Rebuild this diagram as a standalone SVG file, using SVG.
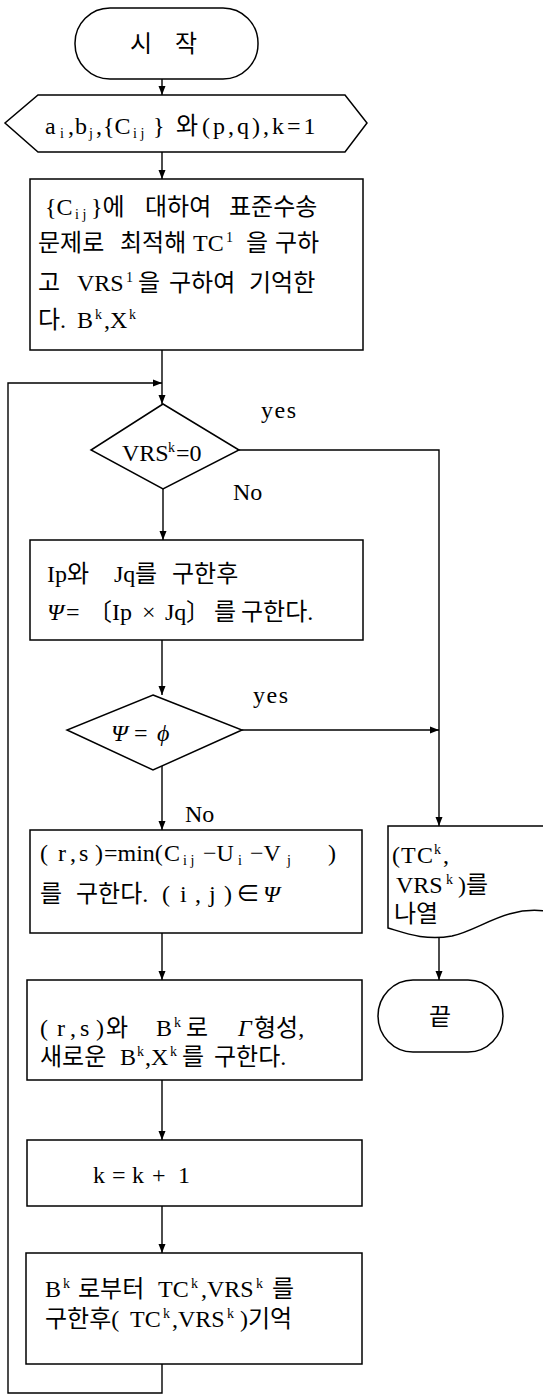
<svg xmlns="http://www.w3.org/2000/svg" width="543" height="1400" viewBox="0 0 543 1400">
<style>
.n{fill:#fff;stroke:#000;stroke-width:1.5}
.c{fill:none;stroke:#000;stroke-width:1.4}
.t{font-family:"Liberation Serif","Noto Sans CJK KR",serif;font-size:24px;fill:#000}
.k{font-family:"Noto Sans CJK KR","Liberation Serif",sans-serif;font-size:24px;fill:#000}
.s{font-size:14px}
.i{font-style:italic}
.y{letter-spacing:1.5px}
</style>
<defs>
<marker id="a" markerUnits="userSpaceOnUse" markerWidth="10" markerHeight="8" refX="9" refY="4" orient="auto">
<path d="M0,0.5 L9,4 L0,7.5 Z" fill="#000"/>
</marker>
</defs>
<g id="connectors">
<path class="c" d="M162,79 V95" marker-end="url(#a)"/>
<path class="c" d="M162,152 V179" marker-end="url(#a)"/>
<path class="c" d="M162,350 V404" marker-end="url(#a)"/>
<path class="c" d="M162,1364 V1393 H8 V383 H162" marker-end="url(#a)"/>
<path class="c" d="M163,489 V540" marker-end="url(#a)"/>
<path class="c" d="M239,450 H439 V826" marker-end="url(#a)"/>
<path class="c" d="M162,640 V695" marker-end="url(#a)"/>
<path class="c" d="M242,730 H439" marker-end="url(#a)"/>
<path class="c" d="M162,766 V830" marker-end="url(#a)"/>
<path class="c" d="M162,933 V980" marker-end="url(#a)"/>
<path class="c" d="M162,1080 V1140" marker-end="url(#a)"/>
<path class="c" d="M162,1206 V1253" marker-end="url(#a)"/>
<path class="c" d="M439,937 V980" marker-end="url(#a)"/>
<text class="t y" x="261" y="418">yes</text>
<text class="t" x="233" y="500">No</text>
<text class="t y" x="253" y="703">yes</text>
<text class="t" x="185" y="822">No</text>
</g>
<g id="start">
<rect class="n" x="75" y="8" width="183" height="71" rx="35" ry="35"/>
<text class="k" y="52"><tspan x="130">시</tspan><tspan x="175">작</tspan></text>
</g>
<g id="input">
<polygon class="n" points="38,95 345,95 367,123 345,152 38,152 5,123"/>
<text class="t" y="134"><tspan x="45">a</tspan><tspan class="s" x="60" dy="4">i</tspan><tspan x="68" dy="-4">,</tspan><tspan x="75">b</tspan><tspan class="s" x="89" dy="4">j</tspan><tspan x="96" dy="-4">,</tspan><tspan x="103">{C</tspan><tspan class="s" x="133" dy="4">i j</tspan><tspan x="153" dy="-4">}</tspan><tspan x="176">와</tspan><tspan x="202" style="letter-spacing:3px">(p,q),k=1</tspan></text>
</g>
<g id="init">
<rect class="n" x="30" y="179" width="333" height="171"/>
<text class="t" y="215"><tspan x="45">{C</tspan><tspan class="s" x="75" dy="4">i j</tspan><tspan x="91" dy="-4">}에</tspan><tspan x="145">대하여</tspan><tspan x="229">표준수송</tspan></text>
<text class="t" y="251"><tspan x="38">문제로</tspan><tspan x="120">최적해</tspan><tspan x="193">TC</tspan><tspan class="s" x="226" dy="-9">1</tspan><tspan x="246" dy="9">을</tspan><tspan x="275">구하</tspan></text>
<text class="t" y="291"><tspan x="38">고</tspan><tspan x="77">VRS</tspan><tspan class="s" x="126" dy="-9">1</tspan><tspan x="138" dy="9">을</tspan><tspan x="169">구하여</tspan><tspan x="249">기억한</tspan></text>
<text class="t" y="328"><tspan x="38">다.</tspan><tspan x="77">B</tspan><tspan class="s" x="95" dy="-9">k</tspan><tspan x="104" dy="9">,X</tspan><tspan class="s" x="129" dy="-9">k</tspan></text>
</g>
<g id="d1">
<polygon class="n" points="163,404 239,450 163,489 91,450"/>
<text class="t" y="461"><tspan x="122">VRS</tspan><tspan class="s" x="168" dy="-9">k</tspan><tspan x="176" dy="9">=0</tspan></text>
</g>
<g id="ipjq">
<rect class="n" x="30" y="540" width="333" height="100"/>
<text class="t" y="582"><tspan x="47">Ip</tspan><tspan x="67">와</tspan><tspan x="114">Jq</tspan><tspan x="135">를</tspan><tspan x="172">구한후</tspan></text>
<text class="t" y="620"><tspan x="47" class="i">Ψ</tspan><tspan x="66">=</tspan><tspan x="88">〔</tspan><tspan x="112">Ip</tspan><tspan x="142">×</tspan><tspan x="165">Jq</tspan><tspan x="186">〕</tspan><tspan x="214">를</tspan><tspan x="241">구한다.</tspan></text>
</g>
<g id="d2">
<polygon class="n" points="153,695 242,730 153,770 67,730"/>
<text class="t" y="741"><tspan x="111" class="i">Ψ</tspan><tspan x="134">=</tspan><tspan x="157" class="i">ϕ</tspan></text>
</g>
<g id="minrs">
<rect class="n" x="30" y="830" width="332" height="103"/>
<text class="t" y="861"><tspan x="40">(</tspan><tspan x="58">r</tspan><tspan x="70">,</tspan><tspan x="79">s</tspan><tspan x="95">)</tspan><tspan x="104">=min(</tspan><tspan x="164">C</tspan><tspan class="s" x="183" dy="4">i j</tspan><tspan x="203" dy="-4">−U</tspan><tspan class="s" x="238" dy="4">i</tspan><tspan x="250" dy="-4">−V</tspan><tspan class="s" x="287" dy="4">j</tspan><tspan x="328" dy="-4">)</tspan></text>
<text class="t" y="902"><tspan x="40">를</tspan><tspan x="76">구한다.</tspan><tspan x="162">(</tspan><tspan x="180">i</tspan><tspan x="195">,</tspan><tspan x="209">j</tspan><tspan x="224">)</tspan><tspan x="236">∈</tspan><tspan x="263" class="i">Ψ</tspan></text>
</g>
<g id="output">
<path class="n" d="M388,826 H545 V911 C505,906 480,930 452,936 C425,941 405,933 388,928 Z"/>
<text class="t" y="863"><tspan x="392">(</tspan><tspan x="401">T</tspan><tspan x="417">C</tspan><tspan class="s" x="434" dy="-9">k</tspan><tspan x="443" dy="9">,</tspan></text>
<text class="t" y="893"><tspan x="396">VRS</tspan><tspan class="s" x="446" dy="-9">k</tspan><tspan x="458" dy="9">)를</tspan></text>
<text class="t" x="394" y="922">나열</text>
</g>
<g id="end">
<rect class="n" x="378" y="980" width="125" height="72" rx="35" ry="36"/>
<text class="k" x="440" y="1025" text-anchor="middle">끝</text>
</g>
<g id="gamma">
<rect class="n" x="27" y="980" width="335" height="100"/>
<text class="t" y="1036"><tspan x="40">(</tspan><tspan x="57">r</tspan><tspan x="70">,</tspan><tspan x="80">s</tspan><tspan x="96">)</tspan><tspan x="106">와</tspan><tspan x="156">B</tspan><tspan class="s" x="174" dy="-9">k</tspan><tspan x="186" dy="9">로</tspan><tspan x="238" class="i">Γ</tspan><tspan x="254">형성,</tspan></text>
<text class="t" y="1065"><tspan x="40">새로운</tspan><tspan x="120">B</tspan><tspan class="s" x="137" dy="-9">k</tspan><tspan x="145" dy="9">,X</tspan><tspan class="s" x="170" dy="-9">k</tspan><tspan x="182" dy="9">를</tspan><tspan x="214">구한다.</tspan></text>
</g>
<g id="inc">
<rect class="n" x="27" y="1140" width="335" height="66"/>
<text class="t" y="1183"><tspan x="93">k</tspan><tspan x="112">=</tspan><tspan x="132">k</tspan><tspan x="152">+</tspan><tspan x="178">1</tspan></text>
</g>
<g id="store">
<rect class="n" x="26" y="1253" width="336" height="111"/>
<text class="t" y="1297"><tspan x="45">B</tspan><tspan class="s" x="63" dy="-9">k</tspan><tspan x="78" dy="9">로부터</tspan><tspan x="158">TC</tspan><tspan class="s" x="191" dy="-9">k</tspan><tspan x="201" dy="9">,VRS</tspan><tspan class="s" x="256" dy="-9">k</tspan><tspan x="272" dy="9">를</tspan></text>
<text class="t" y="1327"><tspan x="45">구한후(</tspan><tspan x="130">TC</tspan><tspan class="s" x="163" dy="-9">k</tspan><tspan x="172" dy="9">,VRS</tspan><tspan class="s" x="227" dy="-9">k</tspan><tspan x="240" dy="9">)기억</tspan></text>
</g>
</svg>
